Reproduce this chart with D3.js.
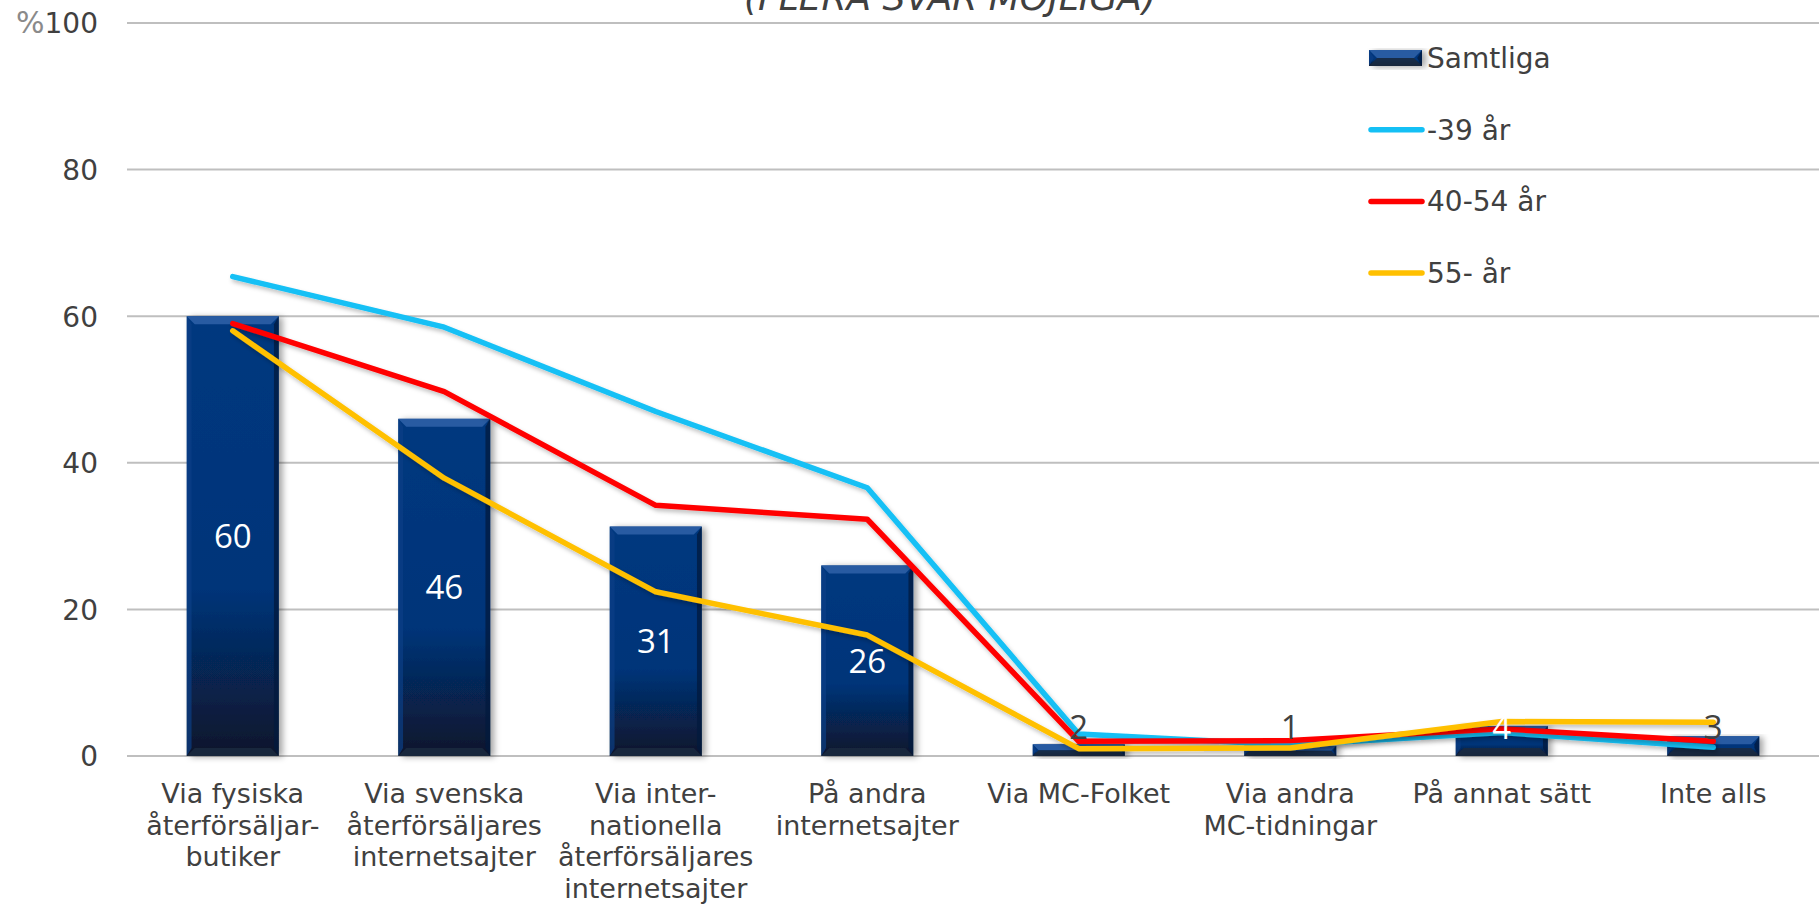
<!DOCTYPE html>
<html>
<head>
<meta charset="utf-8">
<script src="https://cdn.jsdelivr.net/npm/d3@7"></script>
<style>
  html, body { margin: 0; padding: 0; background: #ffffff; }
  svg { display: block; font-family: "DejaVu Sans", Verdana, sans-serif; }
</style>
</head>
<body>
<svg id="chart" width="1819" height="904"></svg>
<script>
// ---------- data ----------
const categories = [
  ["Via fysiska", "återförsäljar-", "butiker"],
  ["Via svenska", "återförsäljares", "internetsajter"],
  ["Via inter-", "nationella", "återförsäljares", "internetsajter"],
  ["På andra", "internetsajter"],
  ["Via MC-Folket"],
  ["Via andra", "MC-tidningar"],
  ["På annat sätt"],
  ["Inte alls"]
];
const catKeys = categories.map(c => c.join(" "));
const samtliga = [60, 46, 31.3, 26, 1.6, 1.4, 4.1, 2.7];
const under39 = [65.4, 58.5, 47.0, 36.6, 3.0, 1.5, 3.2, 1.2];
const age40to54 = [59.0, 49.7, 34.2, 32.3, 2.0, 2.1, 3.7, 2.0];
const over55 = [58.0, 37.9, 22.4, 16.5, 1.0, 1.1, 4.7, 4.6];
const yTicks = [0, 20, 40, 60, 80, 100];
const seriesNames = ["Samtliga", "-39 år", "40-54 år", "55- år"];
const titleText = "(FLERA SVAR MÖJLIGA)";

// ---------- layout ----------
const svg = d3.select("#chart");
const plotLeft = 127, plotRight = 1819, plotTop = 23, plotBottom = 756;

const x = d3.scaleBand().domain(catKeys).range([plotLeft, plotRight])
  .paddingInner(0.565).paddingOuter(0.2825);
const y = d3.scaleLinear().domain([0, 100]).range([plotBottom, plotTop]);
const cx = k => x(k) + x.bandwidth() / 2;

const defs = svg.append("defs");
const grad = defs.append("linearGradient").attr("id", "barGrad")
  .attr("x1", 0).attr("y1", 0).attr("x2", 0).attr("y2", 1);
grad.append("stop").attr("offset", "0%").attr("stop-color", "#05387f");
grad.append("stop").attr("offset", "62%").attr("stop-color", "#043479");
grad.append("stop").attr("offset", "100%").attr("stop-color", "#09162b");

const shadow = defs.append("filter").attr("id", "barShadow")
  .attr("x", "-20%").attr("y", "-10%").attr("width", "150%").attr("height", "130%");
shadow.append("feDropShadow").attr("dx", 4).attr("dy", 1).attr("stdDeviation", 3)
  .attr("flood-color", "#000").attr("flood-opacity", 0.35);

const lineShadow = defs.append("filter").attr("id", "lineShadow")
  .attr("x", "-10%").attr("y", "-10%").attr("width", "130%").attr("height", "130%");
lineShadow.append("feDropShadow").attr("dx", 2).attr("dy", 3).attr("stdDeviation", 2)
  .attr("flood-color", "#000").attr("flood-opacity", 0.25);

// ---------- title (cut off at top, as in the reference) ----------
svg.append("text").attr("x", 950).attr("y", 10)
  .attr("text-anchor", "middle").attr("font-style", "italic")
  .attr("font-size", 36).attr("fill", "#404040").text(titleText);

// ---------- gridlines & y axis ----------
const yAxis = d3.axisLeft(y).tickValues(yTicks).tickSize(0).tickPadding(0)
  .tickFormat(d => d);
const yG = svg.append("g").attr("transform", `translate(${plotLeft},0)`);
yG.selectAll(".grid").data(yTicks).enter().append("line")
  .attr("x1", 0).attr("x2", plotRight - plotLeft)
  .attr("y1", d => y(d)).attr("y2", d => y(d))
  .attr("stroke", "#bfbfbf").attr("stroke-width", 2);
const axisG = svg.append("g").attr("transform", `translate(98,0)`).call(yAxis);
axisG.select(".domain").remove();
axisG.selectAll("text").attr("font-size", 28).attr("fill", "#404040")
  .attr("font-family", "DejaVu Sans, Verdana, sans-serif")
  .attr("dy", "0.35em");
axisG.selectAll(".tick").filter(d => d === 100).select("text")
  .text(null)
  .call(t => {
    t.append("tspan").attr("font-size", 30).attr("fill", "#8a8a8a").text("%");
    t.append("tspan").text("100");
  });

// ---------- bars ----------
function bevelBar(g, bx, by, bw, bh) {
  const b = Math.min(8, bh / 2);
  g.append("rect").attr("x", bx).attr("y", by).attr("width", bw).attr("height", bh)
    .attr("fill", "url(#barGrad)").attr("filter", "url(#barShadow)");
  g.append("polygon")
    .attr("points", [[bx, by], [bx + bw, by], [bx + bw - b, by + b], [bx + b, by + b]].join(" "))
    .attr("fill", "#2c5fa6").attr("opacity", 0.9);
  g.append("polygon")
    .attr("points", [[bx, by], [bx + b * 0.6, by + b], [bx + b * 0.6, by + bh - b], [bx, by + bh]].join(" "))
    .attr("fill", "#0b3f86").attr("opacity", 0.7);
  g.append("polygon")
    .attr("points", [[bx + bw, by], [bx + bw - b * 0.6, by + b], [bx + bw - b * 0.6, by + bh - b], [bx + bw, by + bh]].join(" "))
    .attr("fill", "#021a3d").attr("opacity", 0.75);
  g.append("polygon")
    .attr("points", [[bx, by + bh], [bx + bw, by + bh], [bx + bw - b, by + bh - b], [bx + b, by + bh - b]].join(" "))
    .attr("fill", "#1b2a40").attr("opacity", 0.85);
}

const barsG = svg.append("g");
samtliga.forEach((v, i) => {
  const k = catKeys[i];
  const g = barsG.append("g");
  bevelBar(g, x(k), y(v), x.bandwidth(), y(0) - y(v));
});

// ---------- lines ----------
const lineSeries = [
  { name: seriesNames[1], values: under39, color: "#14c0f5" },
  { name: seriesNames[2], values: age40to54, color: "#ff0000" },
  { name: seriesNames[3], values: over55, color: "#ffc000" }
];
const lineGen = d3.line().x((d, i) => cx(catKeys[i])).y(d => y(d));
const linesG = svg.append("g");
lineSeries.forEach(s => {
  linesG.append("path").datum(s.values).attr("d", lineGen)
    .attr("fill", "none").attr("stroke", s.color).attr("stroke-width", 5.5)
    .attr("stroke-linejoin", "round").attr("stroke-linecap", "round")
    .attr("filter", "url(#lineShadow)");
});

// ---------- data labels ----------
const fmt = d3.format(".0f");
const labelsG = svg.append("g");
samtliga.forEach((v, i) => {
  const k = catKeys[i];
  const h = y(0) - y(v);
  const cy = Math.min((y(v) + y(0)) / 2, y(0) - 29);
  labelsG.append("text").attr("x", cx(k)).attr("y", cy).attr("dy", "0.36em")
    .attr("text-anchor", "middle").attr("font-size", 33)
    .attr("font-family", "'Open Sans', sans-serif")
    .attr("fill", h >= 25 ? "#ffffff" : "#404040")
    .text(fmt(v));
});

// ---------- category labels ----------
const catG = svg.append("g");
categories.forEach((lines, i) => {
  const t = catG.append("text").attr("x", cx(catKeys[i])).attr("y", 803)
    .attr("text-anchor", "middle").attr("font-size", 27).attr("fill", "#404040");
  lines.forEach((ln, j) => {
    t.append("tspan").attr("x", cx(catKeys[i])).attr("y", 803 + j * 31.7)
      .text(ln);
  });
});

// ---------- legend ----------
const legendG = svg.append("g");
const legX = 1369, legY0 = 58, legStep = 71.7;
{
  const lg = legendG.append("g");
  bevelBar(lg, legX, legY0 - 8, 53, 16);
  legendG.append("text").attr("x", 1427).attr("y", legY0).attr("dy", "0.36em")
    .attr("font-size", 28).attr("fill", "#404040").text(seriesNames[0]);
}
lineSeries.forEach((s, i) => {
  const ly = legY0 + (i + 1) * legStep;
  legendG.append("line").attr("x1", legX + 2).attr("x2", legX + 53)
    .attr("y1", ly).attr("y2", ly).attr("stroke", s.color).attr("stroke-width", 5.5)
    .attr("stroke-linecap", "round");
  legendG.append("text").attr("x", 1427).attr("y", ly).attr("dy", "0.36em")
    .attr("font-size", 28).attr("fill", "#404040").text(s.name);
});
</script>
</body>
</html>
